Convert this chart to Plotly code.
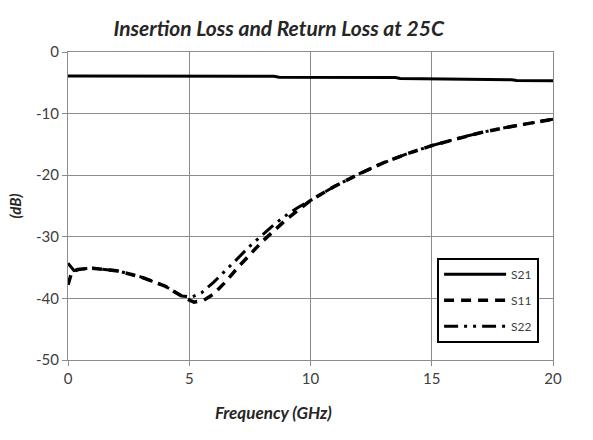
import plotly.graph_objects as go

# ---- data ----
freq_s21 = [0, 2, 4, 6, 8.5, 8.7, 11, 13.5, 13.7, 15.9, 16.1, 18.3, 18.5, 20]
s21 = [-3.9, -3.9, -3.9, -3.92, -3.95, -4.1, -4.1, -4.15, -4.3, -4.35, -4.45, -4.5, -4.62, -4.65]

freq_s11 = [0, 0.15, 0.4, 1, 2, 3, 4, 4.8, 5.2, 5.6, 6.0, 6.5, 7, 7.5, 8, 9, 10, 11, 12, 13, 14, 15, 16, 17, 18, 19, 20]
s11 = [-37.8, -35.8, -35.3, -35.1, -35.5, -36.5, -38, -39.9, -40.6, -40.3, -39.3, -37.3, -35.0, -32.9, -30.8, -27.2, -24.1, -21.8, -19.8, -18.0, -16.5, -15.2, -14.1, -13.1, -12.3, -11.6, -10.9]

freq_s22 = [0, 0.1, 0.25, 0.6, 1, 2, 3, 4, 4.7, 5.1, 5.5, 6, 6.5, 7, 7.5, 8, 8.5, 9, 9.5, 10, 11, 12, 13, 14, 15, 16, 17, 18, 19, 20]
s22 = [-34.3, -34.8, -35.5, -35.2, -35.1, -35.5, -36.5, -38, -39.6, -39.8, -39.1, -37.4, -35.5, -33.5, -31.5, -29.7, -28.0, -26.5, -25.2, -24.1, -21.8, -19.8, -18.0, -16.5, -15.2, -14.1, -13.1, -12.3, -11.6, -10.9]

x_ticks = [0, 5, 10, 15, 20]
y_ticks = [0, -10, -20, -30, -40, -50]
y_ticktext = ["0", "-10", "-20", "-30", "-40", "-50"]

title_text = "Insertion Loss and Return Loss at 25C"
x_title = "Frequency (GHz)"
y_title = "(dB)"

# ---- figure ----
fig = go.Figure()
fig.add_trace(go.Scatter(x=freq_s21, y=s21, name="S21", mode="lines", legendgroup="a",
                         line=dict(color="black", width=3, dash="solid")))
fig.add_trace(go.Scatter(x=freq_s11, y=s11, name="S11", mode="lines", legendgroup="b",
                         line=dict(color="black", width=3.5, dash="10px,7px")))
fig.add_trace(go.Scatter(x=freq_s22, y=s22, name="S22", mode="lines", legendgroup="c",
                         line=dict(color="black", width=3, dash="14px,6px,3px,6px,3px,6px")))

font_family = "Lato, 'Open Sans', sans-serif"

fig.update_layout(
    width=593, height=440,
    margin=dict(l=68, r=40, t=52, b=80),
    paper_bgcolor="white", plot_bgcolor="white",
    title=dict(text="<b><i>" + title_text + "</i></b>", x=0.47, xref="container",
               xanchor="center", y=0.935, yanchor="middle",
               font=dict(family=font_family, size=21, color="#262626")),
    showlegend=True,
    legend=dict(x=0.761, y=0.332, xanchor="left", yanchor="top",
                bgcolor="white", bordercolor="black", borderwidth=2,
                font=dict(family=font_family, size=12, color="#404040"),
                traceorder="grouped", tracegroupgap=7, itemwidth=62),
    annotations=[dict(text="<b><i>" + x_title + "</i></b>", xref="paper", yref="paper",
                      x=(273 - 68) / 485, y=-(412 - 360) / 308, xanchor="center",
                      yanchor="middle", showarrow=False,
                      font=dict(family=font_family, size=17, color="#262626"))],
)

fig.update_xaxes(
    range=[0, 20], tickvals=x_ticks, ticktext=[str(v) for v in x_ticks],
    showgrid=True, gridcolor="#8c8c8c", gridwidth=1,
    showline=True, linecolor="#8c8c8c", linewidth=1, mirror=True,
    ticks="outside", ticklen=5, tickcolor="#8c8c8c",
    zeroline=False,
    tickfont=dict(family=font_family, size=15, color="#404040"),
)
fig.update_yaxes(
    range=[-50, 0], tickvals=y_ticks, ticktext=y_ticktext,
    showgrid=True, gridcolor="#8c8c8c", gridwidth=1,
    showline=True, linecolor="#8c8c8c", linewidth=1, mirror=True,
    ticks="outside", ticklen=5, tickcolor="#8c8c8c",
    zeroline=False,
    tickfont=dict(family=font_family, size=15, color="#404040"),
    title=dict(text="<b><i>" + y_title + "</i></b>", standoff=10,
               font=dict(family=font_family, size=15, color="#262626")),
)

fig.write_html("out.html")
